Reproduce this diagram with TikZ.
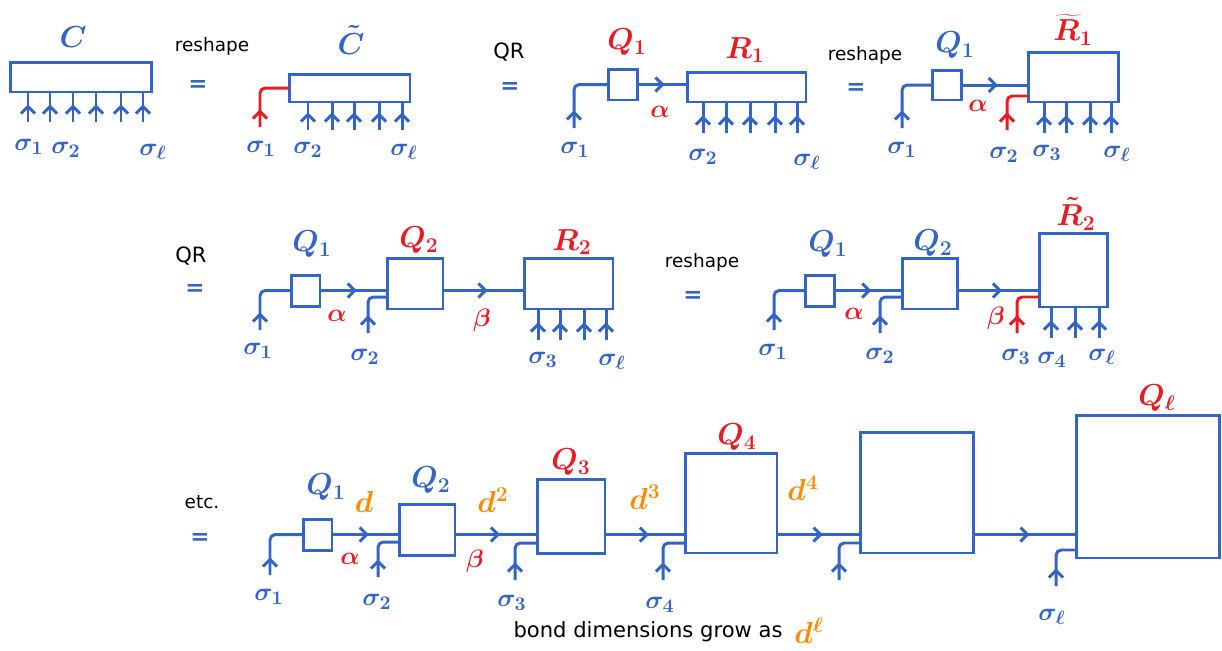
\documentclass[tikz,border=0pt]{standalone}
\usepackage{fontspec}
\newfontfamily\uifont{DejaVu Sans}
\usetikzlibrary{positioning,arrows.meta,decorations.markings}
\definecolor{tblue}{RGB}{52,100,196}
\definecolor{tred}{RGB}{232,28,36}
\definecolor{torange}{RGB}{255,140,0}

\tikzset{
  tensor/.style={draw=tblue,line width=1.7pt,outer sep=0pt,inner sep=0pt},
  leg/.style={tblue,line width=1.7pt,rounded corners=3pt,postaction={decorate},
    decoration={markings,mark=at position 10pt with {\arrow{Straight Barb[length=4pt,width=8pt]}}}},
  redleg/.style={leg,tred},
  bond/.style={tblue,line width=1.7pt,postaction={decorate},
    decoration={markings,mark=at position 0.55 with {\arrow{Straight Barb[length=4pt,width=8pt]}}}},
  hand/.style={font=\boldmath\fontsize{17}{20}\selectfont,inner sep=1pt},
  idx/.style={font=\boldmath\fontsize{15}{18}\selectfont,tblue,inner sep=1pt},
  word/.style={font=\uifont\fontsize{10.5}{12}\selectfont,black},
  bigword/.style={font=\uifont\fontsize{12}{14}\selectfont,black},
  eq/.style={font=\uifont\bfseries\fontsize{13}{14}\selectfont,tblue},
}

\begin{document}
\begin{tikzpicture}[x=0.02cm,y=-0.02cm]
	\useasboundingbox (0,0) rectangle (1222,650);

	% first row: C, reshape
	\node[tensor,minimum width=2.84cm,minimum height=0.6cm] (c) at (81,77) {};
	\node[hand,tblue] (c_lab) at (73,37) {$C$};
	\foreach \x [count=\i] in {28,50,73,96,121,143} {
		\coordinate (c_s\i) at (\x,122);
		\draw[leg] (c_s\i) -- (c_s\i |- c.south);
	}
	\node[idx] (c_i1) at (29,147) {$\sigma_1$};
	\node[idx] (c_i2) at (66,150) {$\sigma_2$};
	\node[idx] (c_il) at (153,152) {$\sigma_\ell$};

	\node[word] (rs0) at (212,46) {reshape};
	\node[eq] (eq0) at (198,86) {=};

	\node[tensor,minimum width=2.42cm,minimum height=0.56cm] (ct) at (349.5,88) {};
	\node[hand,tblue] (ct_lab) at (351,40) {$\tilde{C}$};
	\coordinate (ct_s1) at (260,127);
	\draw[redleg] (ct_s1) |- (ct.west);
	\foreach \x [count=\i from 2] in {308,332,354,379,402} {
		\coordinate (ct_s\i) at (\x,130);
		\draw[leg] (ct_s\i) -- (ct_s\i |- ct.south);
	}
	\node[idx] (ct_i1) at (261,149) {$\sigma_1$};
	\node[idx] (ct_i2) at (308,150) {$\sigma_2$};
	\node[idx] (ct_il) at (404,152) {$\sigma_\ell$};

	% first row: QR
	\node[bigword] (qr0) at (509,52) {QR};
	\node[eq] (eq1) at (510,88) {=};
	\node[tensor,minimum width=0.58cm,minimum height=0.62cm] (a_q1) at (622.5,84.5) {};
	\node[tensor,minimum width=2.38cm,minimum height=0.6cm] (a_r1) at (746.5,87) {};
	\node[hand,tred] (a_q1lab) at (627,42) {$Q_1$};
	\node[hand,tred] (a_r1lab) at (745,50) {$R_1$};
	\coordinate (a_s1) at (574,128);
	\draw[leg] (a_s1) |- (a_q1.west);
	\draw[bond] (a_q1.east) -- (a_q1.east -| a_r1.west);
	\foreach \x [count=\i from 2] in {703,726,750,775,797} {
		\coordinate (a_s\i) at (\x,133);
		\draw[leg] (a_s\i) -- (a_s\i |- a_r1.south);
	}
	\node[idx,tred] (a_al) at (660,112) {$\alpha$};
	\node[idx] (a_i1) at (575,150) {$\sigma_1$};
	\node[idx] (a_i2) at (703,157) {$\sigma_2$};
	\node[idx] (a_il) at (807,162) {$\sigma_\ell$};

	% first row: reshape
	\node[word] (rs1) at (865,55) {reshape};
	\node[eq] (eq2) at (856,89) {=};
	\node[tensor,minimum width=0.58cm,minimum height=0.6cm] (b_q1) at (946.5,85) {};
	\node[tensor,minimum width=1.8cm,minimum height=1cm] (b_r1) at (1073,77) {};
	\node[hand,tblue] (b_q1lab) at (955,45) {$Q_1$};
	\node[hand,tred] (b_r1lab) at (1073,30) {$\widetilde{R}_1$};
	\coordinate (b_s1) at (902,128);
	\draw[leg] (b_s1) |- (b_q1.west);
	\draw[bond] (b_q1.east) -- (b_q1.east -| b_r1.west);
	\coordinate (b_s2) at (1007,130);
	\draw[redleg] (b_s2) |- ([yshift=0.12cm]b_r1.south west);
	\foreach \x [count=\i from 3] in {1044,1066,1090,1111} {
		\coordinate (b_s\i) at (\x,133);
		\draw[leg] (b_s\i) -- (b_s\i |- b_r1.south);
	}
	\node[idx,tred] (b_al) at (978,106) {$\alpha$};
	\node[idx] (b_i1) at (902,150) {$\sigma_1$};
	\node[idx] (b_i2) at (1004,155) {$\sigma_2$};
	\node[idx] (b_i3) at (1047,153) {$\sigma_3$};
	\node[idx] (b_il) at (1117,154) {$\sigma_\ell$};

	% second row: QR
	\node[bigword] (qr1) at (191,256) {QR};
	\node[eq] (eq3) at (195,290) {=};
	\node[tensor,minimum width=0.58cm,minimum height=0.62cm] (e_q1) at (305.5,290.5) {};
	\node[tensor,minimum width=1.12cm,minimum height=1.02cm] (e_q2) at (415,283.5) {};
	\node[tensor,minimum width=1.78cm,minimum height=1.02cm] (e_r2) at (568.5,283.5) {};
	\node[hand,tblue] (e_q1lab) at (312,244) {$Q_1$};
	\node[hand,tred] (e_q2lab) at (419,240) {$Q_2$};
	\node[hand,tred] (e_r2lab) at (572,242) {$R_2$};
	\coordinate (e_s1) at (260,330);
	\draw[leg] (e_s1) |- (e_q1.west);
	\draw[bond] (e_q1.east) -- (e_q1.east -| e_q2.west);
	\coordinate (e_s2) at (368,333);
	\draw[leg] (e_s2) |- ([yshift=0.24cm]e_q2.south west);
	\draw[bond] (e_q1.east -| e_q2.east) -- (e_q1.east -| e_r2.west);
	\foreach \x [count=\i from 3] in {538,560,584,606} {
		\coordinate (e_s\i) at (\x,340);
		\draw[leg] (e_s\i) -- (e_s\i |- e_r2.south);
	}
	\node[idx,tred] (e_al) at (337,316) {$\alpha$};
	\node[idx,tred] (e_be) at (482,320) {$\beta$};
	\node[idx] (e_i1) at (258,351) {$\sigma_1$};
	\node[idx] (e_i2) at (365,357) {$\sigma_2$};
	\node[idx] (e_i3) at (543,360) {$\sigma_3$};
	\node[idx] (e_il) at (612,362) {$\sigma_\ell$};

	% second row: reshape
	\node[word] (rs2) at (702,262) {reshape};
	\node[eq] (eq4) at (693,297) {=};
	\node[tensor,minimum width=0.58cm,minimum height=0.62cm] (f_q1) at (819.5,290.5) {};
	\node[tensor,minimum width=1.1cm,minimum height=1.02cm] (f_q2) at (929.5,283.5) {};
	\node[tensor,minimum width=1.36cm,minimum height=1.48cm] (f_r2) at (1073,270) {};
	\node[hand,tblue] (f_q1lab) at (828,244) {$Q_1$};
	\node[hand,tblue] (f_q2lab) at (933,243) {$Q_2$};
	\node[hand,tred] (f_r2lab) at (1076,214) {$\tilde{R}_2$};
	\coordinate (f_s1) at (774,330);
	\draw[leg] (f_s1) |- (f_q1.west);
	\draw[bond] (f_q1.east) -- (f_q1.east -| f_q2.west);
	\coordinate (f_s2) at (880,333);
	\draw[leg] (f_s2) |- ([yshift=0.24cm]f_q2.south west);
	\draw[bond] (f_q1.east -| f_q2.east) -- (f_q1.east -| f_r2.west);
	\coordinate (f_s3) at (1017,333);
	\draw[redleg] (f_s3) |- ([yshift=0.2cm]f_r2.south west);
	\foreach \x [count=\i from 4] in {1051,1075,1099} {
		\coordinate (f_s\i) at (\x,338);
		\draw[leg] (f_s\i) -- (f_s\i |- f_r2.south);
	}
	\node[idx,tred] (f_al) at (854,314) {$\alpha$};
	\node[idx,tred] (f_be) at (996,318) {$\beta$};
	\node[idx] (f_i1) at (773,352) {$\sigma_1$};
	\node[idx] (f_i2) at (880,356) {$\sigma_2$};
	\node[idx] (f_i3) at (1016,357) {$\sigma_3$};
	\node[idx] (f_i4) at (1052,360) {$\sigma_4$};
	\node[idx] (f_il) at (1102,357) {$\sigma_\ell$};

	% third row: etc.
	\node[word] (etc) at (202,502) {etc.};
	\node[eq] (eq5) at (200,539) {=};
	\node[tensor,minimum width=0.58cm,minimum height=0.62cm] (g_q1) at (317.5,534.5) {};
	\node[tensor,minimum width=1.12cm,minimum height=1.02cm] (g_q2) at (427,529.5) {};
	\node[tensor,minimum width=1.36cm,minimum height=1.48cm] (g_q3) at (571,516) {};
	\node[tensor,minimum width=1.84cm,minimum height=2cm] (g_q4) at (731,503) {};
	\node[tensor,minimum width=2.26cm,minimum height=2.42cm] (g_q5) at (916.5,492.5) {};
	\node[tensor,minimum width=2.86cm,minimum height=2.86cm] (g_ql) at (1147.5,486.5) {};
	\node[hand,tblue] (g_q1lab) at (326,487) {$Q_1$};
	\node[hand,tblue] (g_q2lab) at (431,480) {$Q_2$};
	\node[hand,tred] (g_q3lab) at (571,462) {$Q_3$};
	\node[hand,tred] (g_q4lab) at (737,437) {$Q_4$};
	\node[hand,tred] (g_qllab) at (1157,398) {$Q_\ell$};
	\node[hand,torange] (g_d1) at (364,502) {$d$};
	\node[hand,torange] (g_d2) at (493,500) {$d^2$};
	\node[hand,torange] (g_d3) at (645,497) {$d^3$};
	\node[hand,torange] (g_d4) at (803,488) {$d^4$};
	\coordinate (g_s1) at (270,575);
	\draw[leg] (g_s1) |- (g_q1.west);
	\draw[bond] (g_q1.east) -- (g_q1.east -| g_q2.west);
	\coordinate (g_s2) at (378,577);
	\draw[leg] (g_s2) |- ([yshift=0.26cm]g_q2.south west);
	\draw[bond] (g_q1.east -| g_q2.east) -- (g_q1.east -| g_q3.west);
	\coordinate (g_s3) at (515,580);
	\draw[leg] (g_s3) |- ([yshift=0.2cm]g_q3.south west);
	\draw[bond] (g_q1.east -| g_q3.east) -- (g_q1.east -| g_q4.west);
	\coordinate (g_s4) at (663,580);
	\draw[leg] (g_s4) |- ([yshift=0.2cm]g_q4.south west);
	\draw[bond] (g_q1.east -| g_q4.east) -- (g_q1.east -| g_q5.west);
	\coordinate (g_s5) at (839,580);
	\draw[leg] (g_s5) |- ([yshift=0.2cm]g_q5.south west);
	\draw[bond] (g_q1.east -| g_q5.east) -- (g_q1.east -| g_ql.west);
	\coordinate (g_sl) at (1056,586);
	\draw[leg] (g_sl) |- ([yshift=0.16cm]g_ql.south west);
	\node[idx,tred] (g_al) at (350,559) {$\alpha$};
	\node[idx,tred] (g_be) at (475,561) {$\beta$};
	\node[idx] (g_i1) at (269,597) {$\sigma_1$};
	\node[idx] (g_i2) at (377,602) {$\sigma_2$};
	\node[idx] (g_i3) at (512,603) {$\sigma_3$};
	\node[idx] (g_i4) at (660,605) {$\sigma_4$};
	\node[idx] (g_il) at (1052,617) {$\sigma_\ell$};

	\node[bigword] (g_txt) at (648,632) {bond dimensions grow as};
	\node[hand,torange,inner sep=0pt,right=3pt of g_txt,yshift=1pt] (g_dl) {$d^{\ell}$};
\end{tikzpicture}
\end{document}
